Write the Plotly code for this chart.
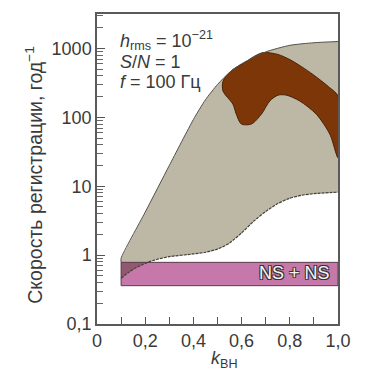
import plotly.graph_objects as go

# Gray region (BH+BH rate band): upper and lower boundaries
upper_x = [0.1, 0.2, 0.3, 0.4, 0.45, 0.5, 0.55, 0.6, 0.7, 0.8, 0.9, 1.0]
upper_y = [0.9, 4.2, 20, 93, 180, 300, 450, 600, 890, 1110, 1210, 1260]
lower_x = [0.1, 0.13, 0.16, 0.19, 0.21, 0.25, 0.3, 0.4, 0.45, 0.5, 0.55, 0.6, 0.65, 0.7, 0.75, 0.8, 0.85, 0.9, 1.0]
lower_y = [0.46, 0.56, 0.65, 0.73, 0.785, 0.87, 0.95, 1.04, 1.1, 1.22, 1.5, 2.1, 3.1, 4.3, 5.6, 6.7, 7.4, 7.8, 8.2]

# Brown blob (closed outline)
blob_x = [0.564, 0.606, 0.65, 0.69, 0.75, 0.80, 0.85, 0.896, 0.966, 1.0, 1.0, 0.966, 0.91, 0.841,
          0.786, 0.751, 0.717, 0.682, 0.641, 0.599, 0.578, 0.564, 0.523, 0.523, 0.564]
blob_y = [495, 600, 760, 870, 820, 689, 540, 419, 269, 204, 26, 57, 111, 173,
          210, 210, 173, 111, 80, 80, 111, 155, 240, 335, 495]

# NS + NS band
ns_x = [0.1, 1.0]
ns_y = [0.36, 0.785]

x_tickvals = [0, 0.2, 0.4, 0.6, 0.8, 1.0]
x_ticktext = ["0", "0,2", "0,4", "0,6", "0,8", "1,0"]
x_minor = [0.1, 0.3, 0.5, 0.7, 0.9]
y_tickvals = [0.1, 1, 10, 100, 1000]
y_ticktext = ["0,1", "1", "10", "100", "1000"]

GRAY = "#bcb8a5"
BROWN = "#7d3608"
PINK = "#c678aa"
OVERLAP = "#925870"
TEXT = "#3a3a3a"
FONT = "Liberation Sans, Arial, sans-serif"
SPL = dict(shape="spline", smoothing=0.6)

fig = go.Figure()

# pink band
fig.add_trace(go.Scatter(
    x=[ns_x[0], ns_x[1], ns_x[1], ns_x[0], ns_x[0]],
    y=[ns_y[0], ns_y[0], ns_y[1], ns_y[1], ns_y[0]],
    fill="toself", fillcolor=PINK, mode="lines",
    line=dict(width=0), hoverinfo="skip", showlegend=False))

# gray region fill between lower and upper boundaries
fig.add_trace(go.Scatter(
    x=lower_x, y=lower_y, mode="lines", line=dict(width=0, **SPL),
    hoverinfo="skip", showlegend=False))
fig.add_trace(go.Scatter(
    x=upper_x, y=upper_y, mode="lines", fill="tonexty", fillcolor=GRAY,
    line=dict(width=0, **SPL), hoverinfo="skip", showlegend=False))

# overlap of gray and pink
ov_x = [lx for lx, ly in zip(lower_x, lower_y) if ly <= ns_y[1]]
ov_y = [ly for ly in lower_y if ly <= ns_y[1]]
fig.add_trace(go.Scatter(
    x=[ns_x[0]] + ov_x + [ns_x[0]], y=[ns_y[1]] + ov_y + [ns_y[1]],
    fill="toself", fillcolor=OVERLAP, mode="lines",
    line=dict(width=0), hoverinfo="skip", showlegend=False))

# pink band outline
fig.add_trace(go.Scatter(
    x=[ns_x[0], ns_x[1], ns_x[1], ns_x[0], ns_x[0]],
    y=[ns_y[0], ns_y[0], ns_y[1], ns_y[1], ns_y[0]],
    mode="lines", line=dict(width=1, color="#5a3a4a"), hoverinfo="skip", showlegend=False))

# brown blob
fig.add_trace(go.Scatter(
    x=blob_x, y=blob_y, fill="toself", fillcolor=BROWN, mode="lines",
    line=dict(width=1, color="#4a2208", shape="spline", smoothing=0.8),
    hoverinfo="skip", showlegend=False))

# gray boundaries
fig.add_trace(go.Scatter(
    x=[upper_x[0]] + upper_x, y=[ns_y[1]] + upper_y, mode="lines",
    line=dict(width=1, color="#555048", **SPL),
    hoverinfo="skip", showlegend=False))
fig.add_trace(go.Scatter(
    x=lower_x, y=lower_y, mode="lines",
    line=dict(width=1.2, color="#444038", dash="3px,1px", **SPL),
    hoverinfo="skip", showlegend=False))

minor_y = [m * 10 ** e for e in range(-1, 4) for m in range(2, 10) if m * 10 ** e <= 3200]

fig.update_layout(
    width=383, height=376,
    margin=dict(l=89, r=53, t=4, b=60),
    paper_bgcolor="white", plot_bgcolor="white",
    font=dict(family=FONT, size=18, color=TEXT),
    xaxis=dict(range=[0, 1], tickvals=x_tickvals, ticktext=x_ticktext,
               ticks="inside", ticklen=7, tickcolor="#555", tickwidth=1.2,
               minor=dict(tickvals=x_minor, ticks="inside", ticklen=7, tickcolor="#555", tickwidth=1.2),
               showline=True, linecolor="#5a5a5a", linewidth=1.5, mirror=True,
               showgrid=False, zeroline=False,
               tickfont=dict(size=18, color=TEXT, family=FONT)),
    yaxis=dict(type="log", range=[-1, 3.5], tickvals=y_tickvals, ticktext=y_ticktext,
               ticks="inside", ticklen=8, tickcolor="#555", tickwidth=1.2,
               minor=dict(tickvals=minor_y, ticks="inside", ticklen=6, tickcolor="#666", tickwidth=1),
               showline=True, linecolor="#5a5a5a", linewidth=1.5, mirror=True,
               showgrid=False, zeroline=False,
               tickfont=dict(size=18, color=TEXT, family=FONT)),
)

ann = [
    dict(text="<i>h</i><sub>rms</sub> = 10<sup>−21</sup>", x=0.086, y=(324.3 - 39) / 312),
    dict(text="<i>S</i>/<i>N</i> = 1", x=0.086, y=(324.3 - 61) / 312),
    dict(text="<i>f</i> = 100 Гц", x=0.086, y=(324.3 - 81) / 312),
]
for a in ann:
    fig.add_annotation(xref="paper", yref="paper", xanchor="left", yanchor="middle",
                       showarrow=False, font=dict(size=18, color=TEXT, family=FONT), **a)

fig.add_annotation(xref="paper", yref="paper", x=-0.265, y=0.482, textangle=-90,
                   text="Скорость регистрации, год<sup>−1</sup>", showarrow=False,
                   xanchor="center", yanchor="middle",
                   font=dict(size=19.5, color=TEXT, family=FONT))
fig.add_annotation(xref="paper", yref="paper", x=0.53, y=-0.114,
                   text="<i>k</i><sub>BH</sub>", showarrow=False,
                   xanchor="center", yanchor="middle",
                   font=dict(size=18, color=TEXT, family=FONT))
fig.add_annotation(xref="x", yref="y", x=0.975, y=-0.26, yanchor="middle", xanchor="right",
                   text="NS + NS", showarrow=False,
                   font=dict(size=18, color="#f4f4f4", family=FONT,
                             shadow="1px 1px 0 #333, -1px -1px 0 #333, 1px -1px 0 #333, -1px 1px 0 #333"))

fig.write_html("out.html")
